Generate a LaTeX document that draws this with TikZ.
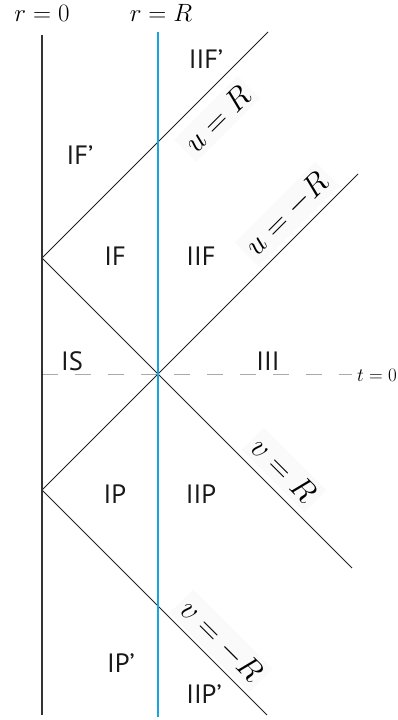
\RequirePackage{fix-cm}
\documentclass[tikz,border=0pt]{standalone}
\usepackage[no-math]{fontspec}
\setmainfont{PT Sans}
\definecolor{wallblue}{HTML}{1AA3DF}
\definecolor{dashgray}{HTML}{AAAAAA}
\definecolor{linegray}{HTML}{222222}
\begin{document}
\begin{tikzpicture}[x=1pt,y=-1pt,
  region/.style={anchor=base,inner sep=0pt,font=\fontsize{26.5}{30}\selectfont,text=black!90},
  toplab/.style={anchor=base,inner sep=0pt,font=\fontsize{25}{30}\selectfont},
  slant/.style={inner sep=5pt,fill=black!2,font=\fontsize{31}{34}\selectfont},
  ray/.style={draw=linegray,line width=0.9pt},
  axis/.style={draw=black!80,line width=1.2pt},
  wall/.style={draw=wallblue,line width=2.5pt},
  tzero/.style={draw=dashgray,line width=1pt,dash pattern=on 16pt off 17pt}]
\useasboundingbox (0,0) rectangle (398,720);
% coordinates
\coordinate (top0) at (42,35);
\coordinate (bot0) at (42,715);
\coordinate (topR) at (158,32);
\coordinate (botR) at (158,717);
\coordinate (A) at (42,258);
\coordinate (B) at (42,490);
\coordinate (C) at (158,374);
\coordinate (uRend) at (268,32);
\coordinate (umRend) at (358,174);
\coordinate (vRend) at (352,568);
\coordinate (vmRend) at (267,715);
\coordinate (dstart) at (42,374);
\coordinate (dend) at (352,374);
% dashed t=0
\draw[tzero] (dstart) -- (dend);
% rotated labels
\node[slant,rotate=45] (lu) at (217,119) {$u=R$};
\node[slant,rotate=45] (lum) at (287,214) {$u=-R$};
\node[slant,rotate=-45] (lv) at (284,470) {$v=R$};
\node[slant,rotate=-45] (lvm) at (221,641) {$v=-R$};
% null rays
\draw[ray] (A) -- (uRend);
\draw[ray] (A) -- (C) -- (vRend);
\draw[ray] (B) -- (C) -- (umRend);
\draw[ray] (B) -- (vmRend);
% vertical lines
\draw[axis] (top0) -- (bot0);
\draw[wall] (topR) -- (botR);
% top labels
\node[toplab] (r0) at (42,21) {$r=0$};
\node[toplab] (rR) at (161,21) {$r=R$};
\node[anchor=base,inner sep=0pt,font=\fontsize{19}{22}\selectfont] (t0) at (377,381) {$t=0$};
% regions
\node[region] (IIFp) at (206,68) {IIF’};
\node[region] (IFp) at (80,164) {IF’};
\node[region] (IF) at (115,265) {IF};
\node[region] (IIF) at (201,265) {IIF};
\node[region] (IS) at (72,370) {IS};
\node[region] (III) at (268,370) {III};
\node[region] (IP) at (115,503) {IP};
\node[region] (IIP) at (201,503) {IIP};
\node[region] (IPp) at (121,672) {IP’};
\node[region] (IIPp) at (204,703) {IIP’};
\end{tikzpicture}
\end{document}
